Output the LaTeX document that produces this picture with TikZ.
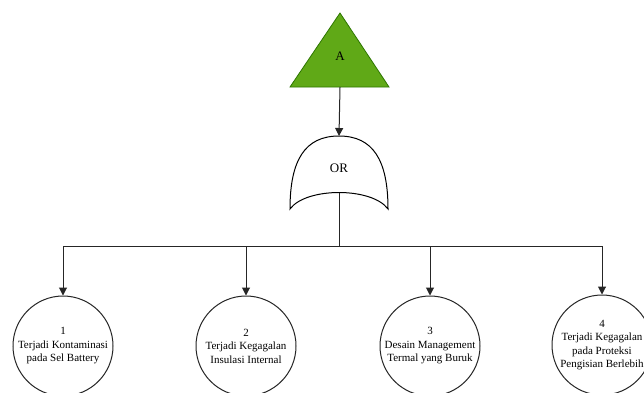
\documentclass[tikz,border=0pt]{standalone}
\usepackage{fontspec}
\setmainfont{Liberation Serif}
\usetikzlibrary{arrows.meta}
\definecolor{gfill}{HTML}{60A917}
\definecolor{gline}{HTML}{2D7600}
\begin{document}
\begin{tikzpicture}[x=1pt,y=-1pt,
  conn/.style={draw=black!85, line width=1pt},
  arr/.style={conn, -{Triangle[length=8pt,width=8pt]}},
  event/.style={circle, draw=black!85, line width=1pt, minimum size=100pt, inner sep=0pt, align=center, font=\fontsize{11}{13.5}\selectfont},
  lbl/.style={font=\fontsize{13}{15}\selectfont, inner sep=0pt}]
\useasboundingbox (0,0) rectangle (644,392);
\clip (0,0) rectangle (644,392);
\fill[white] (0,0) rectangle (644,392);
% top event triangle
\draw[fill=gfill, draw=gline, line width=0.8pt] (340,13) -- (389,87) -- (290,87) -- cycle;
\node[lbl] (A) at (340,56) {A};
\coordinate (Abase) at (340,87);
% OR gate
\draw[line width=1pt, fill=white] (290,209) .. controls (290,160) and (305,136) .. (339,136)
  .. controls (373,136) and (388,160) .. (388,209)
  .. controls (372,187) and (306,187) .. (290,209) -- cycle;
\node[lbl] (OR) at (339,168) {OR};
\coordinate (ORtop) at (339,136);
\coordinate (ORbot) at (339,192.5);
\coordinate (bus) at (339,246);
% basic events
\node[event] (c1) at (63,346) {1\\Terjadi Kontaminasi\\pada Sel Battery};
\node[event] (c2) at (246,346) {2\\Terjadi Kegagalan\\Insulasi Internal};
\node[event] (c3) at (430,346) {3\\Desain Management\\Termal yang Buruk};
\node[event] (c4) at (602,345) {4\\Terjadi Kegagalan\\pada Proteksi\\Pengisian Berlebih};
% connectors
\draw[arr] (Abase) -- (ORtop);
\draw[conn] (ORbot) -- (bus);
\draw[arr] (bus) -| (c1.north);
\draw[arr] (bus) -| (c2.north);
\draw[arr] (bus) -| (c3.north);
\draw[arr] (bus) -| (c4.north);
\end{tikzpicture}
\end{document}
